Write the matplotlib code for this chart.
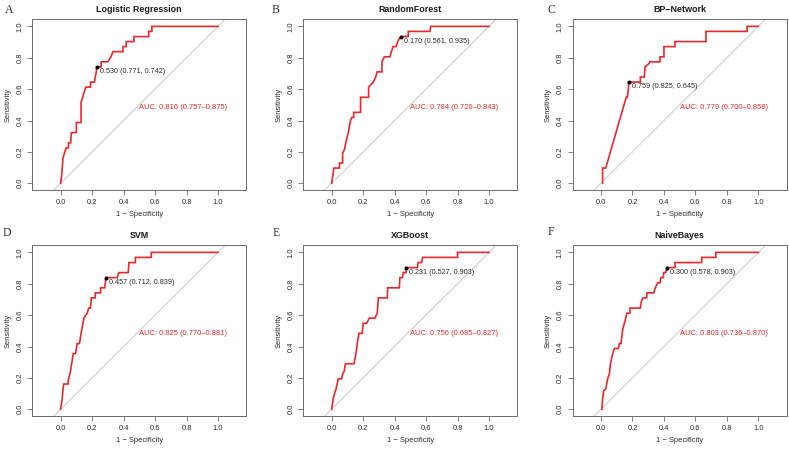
import matplotlib
matplotlib.use("Agg")
import matplotlib.pyplot as plt

plt.rcParams['font.family'] = ['Liberation Sans', 'DejaVu Sans']

# ---------------- data ----------------
panel_letters = ["A", "B", "C", "D", "E", "F"]
model_names = ["Logistic Regression", "RandomForest", "BP\u2212Network", "SVM", "XGBoost", "NaiveBayes"]

# ROC step vertices: (1 - specificity, sensitivity)
roc_logistic = [(0, 0), (0.008, 0.065), (0.015, 0.161), (0.025, 0.194), (0.036, 0.226), (0.05, 0.226),
                (0.05, 0.258), (0.064, 0.258), (0.068, 0.323), (0.10, 0.323), (0.10, 0.387), (0.13, 0.387),
                (0.13, 0.516), (0.14, 0.548), (0.15, 0.581), (0.16, 0.613), (0.19, 0.613), (0.19, 0.645),
                (0.215, 0.645), (0.22, 0.677), (0.227, 0.710), (0.229, 0.742), (0.258, 0.742), (0.258, 0.774),
                (0.30, 0.774), (0.32, 0.806), (0.333, 0.839), (0.396, 0.839), (0.396, 0.871), (0.417, 0.871),
                (0.417, 0.903), (0.466, 0.903), (0.466, 0.935), (0.56, 0.935), (0.56, 0.968), (0.58, 0.968),
                (0.58, 1.0), (1.0, 1.0)]
roc_randomforest = [(0, 0), (0.015, 0.097), (0.05, 0.097), (0.05, 0.129), (0.07, 0.129), (0.07, 0.194),
                    (0.08, 0.210), (0.09, 0.258), (0.106, 0.323), (0.117, 0.387), (0.127, 0.419), (0.14, 0.419),
                    (0.14, 0.452), (0.184, 0.452), (0.184, 0.548), (0.235, 0.548), (0.235, 0.613), (0.265, 0.645),
                    (0.28, 0.677), (0.29, 0.710), (0.32, 0.710), (0.32, 0.774), (0.335, 0.806), (0.37, 0.806),
                    (0.38, 0.839), (0.39, 0.871), (0.41, 0.871), (0.42, 0.903), (0.439, 0.935), (0.487, 0.935),
                    (0.487, 0.968), (0.625, 0.968), (0.63, 1.0), (1.0, 1.0)]
roc_bpnetwork = [(0.01, 0), (0.01, 0.097), (0.03, 0.097), (0.16, 0.548), (0.167, 0.548), (0.175, 0.613),
                 (0.175, 0.645), (0.25, 0.645), (0.25, 0.677), (0.275, 0.677), (0.28, 0.742), (0.30, 0.758),
                 (0.31, 0.774), (0.375, 0.774), (0.375, 0.806), (0.40, 0.806), (0.40, 0.871), (0.47, 0.871),
                 (0.47, 0.903), (0.667, 0.903), (0.667, 0.968), (0.928, 0.968), (0.928, 1.0), (1.0, 1.0)]
roc_svm = [(0, 0), (0.01, 0.065), (0.015, 0.129), (0.02, 0.161), (0.047, 0.161), (0.05, 0.194), (0.06, 0.226),
           (0.07, 0.290), (0.08, 0.355), (0.095, 0.355), (0.105, 0.419), (0.12, 0.419), (0.13, 0.484),
           (0.148, 0.581), (0.16, 0.600), (0.17, 0.613), (0.178, 0.645), (0.19, 0.645), (0.195, 0.710),
           (0.22, 0.710), (0.22, 0.742), (0.254, 0.742), (0.254, 0.774), (0.28, 0.774), (0.288, 0.839),
           (0.36, 0.839), (0.37, 0.871), (0.43, 0.871), (0.434, 0.935), (0.475, 0.935), (0.475, 0.968),
           (0.576, 0.968), (0.576, 1.0), (1.0, 1.0)]
roc_xgboost = [(0, 0), (0.01, 0.065), (0.017, 0.097), (0.028, 0.129), (0.042, 0.194), (0.064, 0.194),
               (0.07, 0.226), (0.08, 0.242), (0.087, 0.290), (0.142, 0.290), (0.155, 0.355), (0.165, 0.435),
               (0.174, 0.484), (0.195, 0.484), (0.20, 0.548), (0.222, 0.548), (0.24, 0.581), (0.275, 0.581),
               (0.29, 0.613), (0.297, 0.710), (0.354, 0.710), (0.356, 0.774), (0.43, 0.774), (0.434, 0.839),
               (0.45, 0.839), (0.455, 0.871), (0.473, 0.871), (0.473, 0.903), (0.545, 0.903), (0.55, 0.935),
               (0.572, 0.935), (0.578, 0.968), (0.80, 0.968), (0.80, 1.0), (1.0, 1.0)]
roc_naivebayes = [(0.006, 0), (0.01, 0.065), (0.017, 0.118), (0.03, 0.129), (0.042, 0.194), (0.053, 0.226),
                  (0.06, 0.290), (0.074, 0.355), (0.085, 0.387), (0.11, 0.387), (0.117, 0.419), (0.127, 0.419),
                  (0.138, 0.510), (0.153, 0.565), (0.165, 0.613), (0.184, 0.613), (0.184, 0.645), (0.25, 0.645),
                  (0.254, 0.677), (0.265, 0.710), (0.29, 0.710), (0.292, 0.742), (0.335, 0.742), (0.345, 0.774),
                  (0.36, 0.806), (0.375, 0.806), (0.38, 0.839), (0.396, 0.839), (0.398, 0.871), (0.41, 0.871),
                  (0.422, 0.903), (0.47, 0.903), (0.47, 0.935), (0.64, 0.935), (0.64, 0.968), (0.73, 0.968),
                  (0.73, 1.0), (1.0, 1.0)]
roc_curves = [roc_logistic, roc_randomforest, roc_bpnetwork, roc_svm, roc_xgboost, roc_naivebayes]

best_thresholds = [0.530, 0.170, 0.759, 0.457, 0.231, 0.300]
best_specificity = [0.771, 0.561, 0.825, 0.712, 0.527, 0.578]
best_sensitivity = [0.742, 0.935, 0.645, 0.839, 0.903, 0.903]

auc_values = [0.816, 0.784, 0.779, 0.825, 0.756, 0.803]
auc_ci_low = [0.757, 0.726, 0.700, 0.770, 0.685, 0.736]
auc_ci_high = [0.875, 0.843, 0.858, 0.881, 0.827, 0.870]

tick_values = [0.0, 0.2, 0.4, 0.6, 0.8, 1.0]

# ---------------- layout ----------------
W, H = 789, 449
fig = plt.figure(figsize=(W / 100, H / 100), dpi=100)

lefts_px = [32.3, 303.3, 572.7]
tops_px = [19, 245]
ax_w_px, ax_h_px = 214, 171
letter_pos_px = [(9, 10), (276, 10), (551, 10), (7, 233), (276, 233), (551, 232)]

red = "#e8282a"
box_col = "#6b6b6b"
txt_col = "#2b2b2b"

for i in range(6):
    r, c = divmod(i, 3)
    l = lefts_px[c] / W
    b = (H - tops_px[r] - ax_h_px) / H
    ax = fig.add_axes([l, b, ax_w_px / W, ax_h_px / H])
    ax.set_xlim(-0.18, 1.18)
    ax.set_ylim(-0.043, 1.047)

    # diagonal reference
    ax.plot([-0.2, 1.2], [-0.2, 1.2], color="#cfcfcf", lw=0.8, zorder=1)

    xs = [p[0] for p in roc_curves[i]]
    ys = [p[1] for p in roc_curves[i]]
    ax.plot(xs, ys, color=red, lw=1.2, zorder=3, solid_joinstyle="miter")

    bx = 1 - best_specificity[i]
    by = best_sensitivity[i]
    ax.plot([bx], [by], marker="o", ms=1.9, color="black", zorder=4)
    ax.annotate(f"{best_thresholds[i]:.3f} ({best_specificity[i]:.3f}, {best_sensitivity[i]:.3f})",
                xy=(bx, by), xytext=(2.2, -3.2), textcoords="offset points",
                ha="left", va="center", fontsize=5.2, color=txt_col)

    ax.text(0.5, 0.48, f"AUC: {auc_values[i]:.3f} ({auc_ci_low[i]:.3f}\u2013{auc_ci_high[i]:.3f})",
            ha="left", va="center", fontsize=5.4, color=red)

    ax.set_xticks(tick_values)
    ax.set_yticks(tick_values)
    ax.set_xticklabels([f"{t:.1f}" for t in tick_values])
    ax.set_yticklabels([f"{t:.1f}" for t in tick_values], rotation=90, va="center")
    ax.tick_params(axis="both", direction="out", length=3.5, width=0.6, color=box_col,
                   labelsize=5.4, labelcolor=txt_col, pad=3)
    for s in ax.spines.values():
        s.set_color(box_col)
        s.set_linewidth(0.7)

    ax.set_xlabel("1 \u2212 Specificity", fontsize=5.4, color=txt_col, labelpad=3.5)
    ax.set_ylabel("Sensitivity", fontsize=5.4, color=txt_col, labelpad=3.5)
    ax.set_title(model_names[i], fontsize=6.4, fontweight="bold", color="#1a1a1a", pad=4.8)

    lx, ly = letter_pos_px[i]
    fig.text(lx / W, 1 - ly / H, panel_letters[i], family=["Liberation Serif", "DejaVu Serif"],
             fontsize=8.5, color="#333333", ha="center", va="center")

fig.savefig("out.png", dpi=100)
